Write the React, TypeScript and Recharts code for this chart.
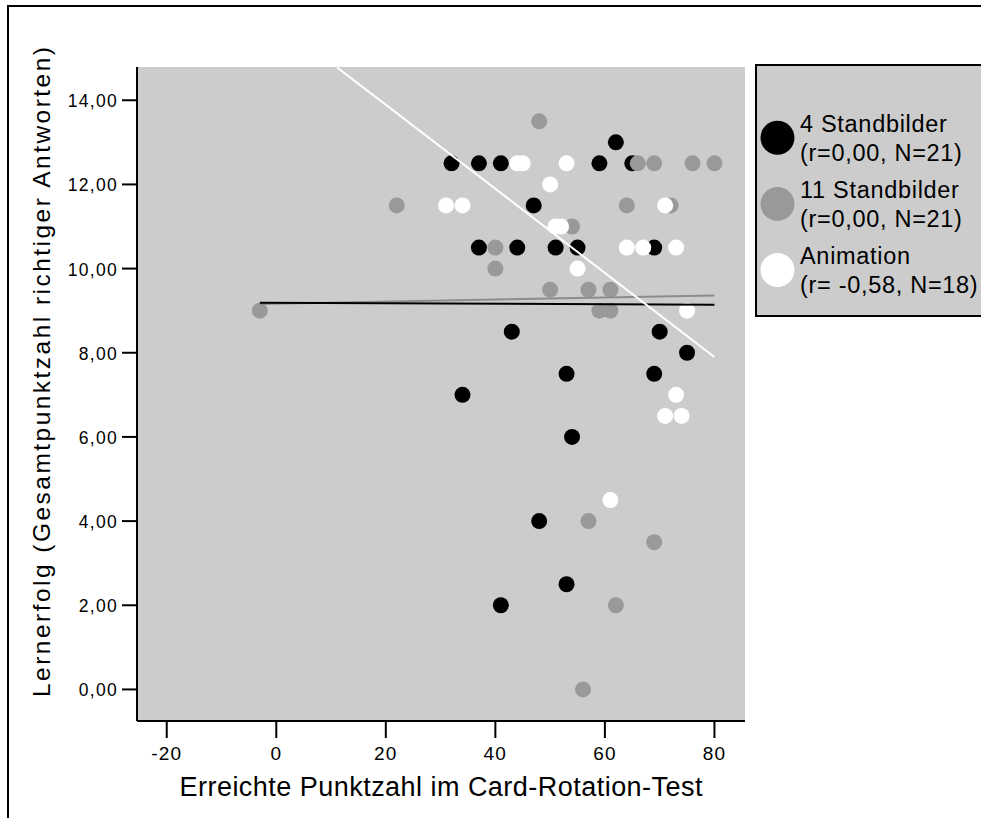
import React from 'react';
import { ScatterChart, Scatter, XAxis, YAxis, CartesianGrid, Legend } from 'recharts';

const FONT = '"Liberation Sans", Arial, Helvetica, sans-serif';

// Card-Rotation-Test score (x) and learning success (y) per group
const stillsFourX = [62, 32, 37, 41, 59, 65, 47, 37, 44, 51, 55, 69, 43, 70, 75, 53, 69, 34, 54, 48, 53, 41];
const stillsFourY = [13, 12.5, 12.5, 12.5, 12.5, 12.5, 11.5, 10.5, 10.5, 10.5, 10.5, 10.5, 8.5, 8.5, 8, 7.5, 7.5, 7, 6, 4, 2.5, 2];

const stillsElevenX = [48, 66, 69, 76, 80, 22, 64, 72, 54, 40, 40, 50, 57, 61, -3, 59, 61, 57, 69, 62, 56];
const stillsElevenY = [13.5, 12.5, 12.5, 12.5, 12.5, 11.5, 11.5, 11.5, 11, 10.5, 10, 9.5, 9.5, 9.5, 9, 9, 9, 4, 3.5, 2, 0];

const animationX = [44, 45, 53, 50, 31, 34, 71, 51, 52, 64, 67, 73, 55, 75, 73, 71, 74, 61];
const animationY = [12.5, 12.5, 12.5, 12, 11.5, 11.5, 11.5, 11, 11, 10.5, 10.5, 10.5, 10, 9, 7, 6.5, 6.5, 4.5];

// fit line end points
const fitFourX = [-3, 80];
const fitFourY = [9.19, 9.14];
const fitElevenX = [-3, 80];
const fitElevenY = [9.16, 9.36];
const fitAnimX = [11.1, 80];
const fitAnimY = [14.78, 7.9];

const seriesNames = ['4 Standbilder', '11 Standbilder', 'Animation'];
const seriesStats = ['(r=0,00, N=21)', '(r=0,00, N=21)', '(r= -0,58, N=18)'];
const seriesColors = ['#000000', '#999999', '#ffffff'];

const xTicks = [-20, 0, 20, 40, 60, 80];
const yTicks = [0, 2, 4, 6, 8, 10, 12, 14];
const xDomain = [-25.43, 85.58];
const yDomain = [-0.75, 14.79];

const toPoints = (xs: number[], ys: number[]) => xs.map((x, i) => ({ x, y: ys[i] }));

const fourData = toPoints(stillsFourX, stillsFourY);
const elevenData = toPoints(stillsElevenX, stillsElevenY);
const animData = toPoints(animationX, animationY);

const dot = (fill: string) => (props: any) => <circle cx={props.cx} cy={props.cy} r={8} fill={fill} />;
const noDot = () => <g />;

const XTick = (props: any) => (
  <text x={props.x} y={props.y} dy={22} textAnchor="middle" fontFamily={FONT} fontSize={19} letterSpacing={1.2} fill="#000">
    {props.payload.value}
  </text>
);

const YTick = (props: any) => (
  <text x={props.x + 1} y={props.y} dy={7} textAnchor="end" fontFamily={FONT} fontSize={17.5} letterSpacing={1.3} fill="#000">
    {props.payload.value.toFixed(2).replace('.', ',')}
  </text>
);

const XTitle = (props: any) => {
  const vb = props.viewBox;
  return (
    <text x={vb.x + vb.width / 2} y={vb.y + 75} textAnchor="middle" fontFamily={FONT} fontSize={27}
      textLength={523} lengthAdjust="spacing" fill="#000">
      Erreichte Punktzahl im Card-Rotation-Test
    </text>
  );
};

const YTitle = (props: any) => {
  const vb = props.viewBox;
  const cx = vb.x + 50;
  const cy = vb.y + 305;
  return (
    <text x={cx} y={cy} transform={`rotate(-90 ${cx} ${cy})`} textAnchor="middle" fontFamily={FONT} fontSize={24.5}
      textLength={650} lengthAdjust="spacing" fill="#000">
      Lernerfolg (Gesamtpunktzahl richtiger Antworten)
    </text>
  );
};

const renderLegend = () => (
  <div style={{ width: 230, height: 253, boxSizing: 'border-box', border: '2px solid #000', background: '#cccccc' }}>
    <svg width={226} height={249} style={{ display: 'block' }}>
      {seriesNames.map((name, i) => (
        <g key={name} fontFamily={FONT} fontSize={23.5} letterSpacing={0.7} fill="#000">
          <circle cx={20.5} cy={71.7 + i * 66.2} r={17} fill={seriesColors[i]} />
          <text x={43} y={65.7 + i * 66.2}>{name}</text>
          <text x={43} y={94.7 + i * 66.2}>{seriesStats[i]}</text>
        </g>
      ))}
    </svg>
  </div>
);

export default function App() {
  return (
    <div style={{ position: 'absolute', left: 0, top: 0, width: 981, height: 818, overflow: 'hidden', background: '#fff' }}>
      <div style={{ position: 'absolute', left: 7, top: 5, width: 1000, height: 900, border: '2px solid #000' }} />
      <div style={{ position: 'absolute', left: 0, top: 0 }}>
        <ScatterChart width={981} height={818} margin={{ top: 67, right: 236, bottom: 37, left: 0 }}>
          <CartesianGrid fill="#cccccc" horizontal={false} vertical={false} />
          <XAxis
            dataKey="x"
            type="number"
            domain={xDomain}
            allowDataOverflow
            ticks={xTicks}
            height={60}
            tickSize={17}
            tickMargin={0}
            tickLine={{ stroke: '#000', strokeWidth: 2 }}
            axisLine={{ stroke: '#000', strokeWidth: 2 }}
            tick={<XTick />}
            label={<XTitle />}
          />
          <XAxis
            xAxisId="top"
            orientation="top"
            type="number"
            domain={xDomain}
            allowDataOverflow
            height={0}
            tick={false}
            tickLine={false}
            axisLine={{ stroke: '#000', strokeWidth: 2 }}
          />
          <YAxis
            dataKey="y"
            type="number"
            domain={yDomain}
            allowDataOverflow
            ticks={yTicks}
            width={137}
            tickSize={15}
            tickMargin={5}
            tickLine={{ stroke: '#000', strokeWidth: 2 }}
            axisLine={{ stroke: '#000', strokeWidth: 2 }}
            tick={<YTick />}
            label={<YTitle />}
          />
          <YAxis
            yAxisId="right"
            orientation="right"
            type="number"
            domain={yDomain}
            allowDataOverflow
            width={0}
            tick={false}
            tickLine={false}
            axisLine={{ stroke: '#000', strokeWidth: 2 }}
          />
          <Legend
            layout="vertical"
            align="center"
            verticalAlign="middle"
            content={renderLegend}
            wrapperStyle={{ position: 'absolute', left: 755, top: 64, width: 230, height: 253 }}
          />
          <Scatter name={seriesNames[0]} data={fourData} shape={dot(seriesColors[0])} isAnimationActive={false} />
          <Scatter name={seriesNames[1]} data={elevenData} shape={dot(seriesColors[1])} isAnimationActive={false} />
          <Scatter name={seriesNames[2]} data={animData} shape={dot(seriesColors[2])} isAnimationActive={false} />
          <Scatter data={toPoints(fitElevenX, fitElevenY)} line={{ stroke: '#8c8c8c', strokeWidth: 2 }} shape={noDot} legendType="none" isAnimationActive={false} />
          <Scatter data={toPoints(fitFourX, fitFourY)} line={{ stroke: '#000', strokeWidth: 2 }} shape={noDot} legendType="none" isAnimationActive={false} />
          <Scatter data={toPoints(fitAnimX, fitAnimY)} line={{ stroke: '#fff', strokeWidth: 2 }} shape={noDot} legendType="none" isAnimationActive={false} />
        </ScatterChart>
      </div>
    </div>
  );
}
